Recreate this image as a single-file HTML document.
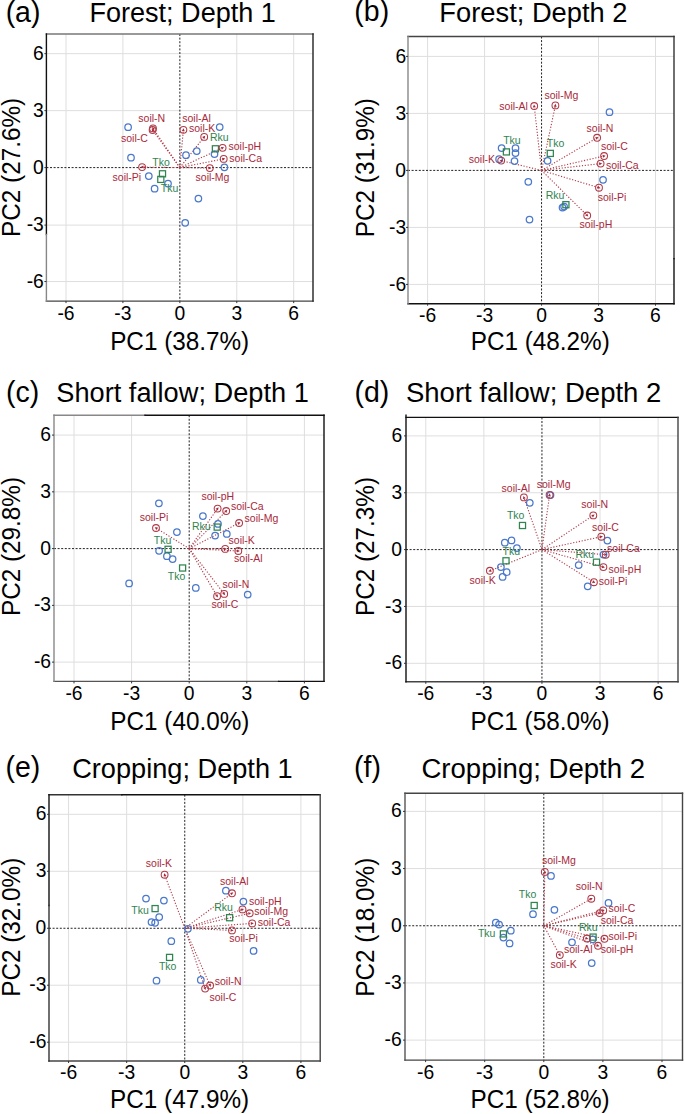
<!DOCTYPE html>
<html><head><meta charset="utf-8"><title>PCA biplots</title>
<style>
html,body{margin:0;padding:0;background:#fff;}
body{width:685px;height:1114px;overflow:hidden;}
svg{display:block;font-family:"Liberation Sans", sans-serif;font-kerning:none;}
svg text{font-kerning:none;}
</style></head>
<body>
<svg width="685" height="1114" viewBox="0 0 685 1114">
<rect width="685" height="1114" fill="#fff"/>
<g id="panel-a">
<line x1="66" y1="34" x2="66" y2="301.1" stroke="#DEDEDE" stroke-width="1"/>
<line x1="46.4" y1="281.54" x2="313" y2="281.54" stroke="#DEDEDE" stroke-width="1"/>
<line x1="122.92" y1="34" x2="122.92" y2="301.1" stroke="#DEDEDE" stroke-width="1"/>
<line x1="46.4" y1="225.1" x2="313" y2="225.1" stroke="#DEDEDE" stroke-width="1"/>
<line x1="236.78" y1="34" x2="236.78" y2="301.1" stroke="#DEDEDE" stroke-width="1"/>
<line x1="46.4" y1="110.63" x2="313" y2="110.63" stroke="#DEDEDE" stroke-width="1"/>
<line x1="293.7" y1="34" x2="293.7" y2="301.1" stroke="#DEDEDE" stroke-width="1"/>
<line x1="46.4" y1="53.66" x2="313" y2="53.66" stroke="#DEDEDE" stroke-width="1"/>
<line x1="179.85" y1="34" x2="179.85" y2="301.1" stroke="#222" stroke-width="1" stroke-dasharray="2 1.6"/>
<line x1="46.4" y1="167.6" x2="313" y2="167.6" stroke="#222" stroke-width="1" stroke-dasharray="2 1.6"/>
<line x1="179.85" y1="167.6" x2="153" y2="128.4" stroke="#B03A48" stroke-width="1.1" stroke-dasharray="1.2 1.7"/>
<line x1="179.85" y1="167.6" x2="152.6" y2="130" stroke="#B03A48" stroke-width="1.1" stroke-dasharray="1.2 1.7"/>
<line x1="179.85" y1="167.6" x2="183.4" y2="129.8" stroke="#B03A48" stroke-width="1.1" stroke-dasharray="1.2 1.7"/>
<line x1="179.85" y1="167.6" x2="204.2" y2="136.9" stroke="#B03A48" stroke-width="1.1" stroke-dasharray="1.2 1.7"/>
<line x1="179.85" y1="167.6" x2="222.6" y2="147.8" stroke="#B03A48" stroke-width="1.1" stroke-dasharray="1.2 1.7"/>
<line x1="179.85" y1="167.6" x2="223.7" y2="158.9" stroke="#B03A48" stroke-width="1.1" stroke-dasharray="1.2 1.7"/>
<line x1="179.85" y1="167.6" x2="209.8" y2="168.1" stroke="#B03A48" stroke-width="1.1" stroke-dasharray="1.2 1.7"/>
<line x1="179.85" y1="167.6" x2="142.1" y2="167.1" stroke="#B03A48" stroke-width="1.1" stroke-dasharray="1.2 1.7"/>
<circle cx="128.1" cy="127.2" r="3.25" fill="none" stroke="#4A78CC" stroke-width="1.25"/>
<circle cx="131" cy="157.7" r="3.25" fill="none" stroke="#4A78CC" stroke-width="1.25"/>
<circle cx="148.8" cy="176" r="3.25" fill="none" stroke="#4A78CC" stroke-width="1.25"/>
<circle cx="154.6" cy="188.7" r="3.25" fill="none" stroke="#4A78CC" stroke-width="1.25"/>
<circle cx="168" cy="183.5" r="3.25" fill="none" stroke="#4A78CC" stroke-width="1.25"/>
<circle cx="186" cy="155.2" r="3.25" fill="none" stroke="#4A78CC" stroke-width="1.25"/>
<circle cx="196.75" cy="151" r="3.25" fill="none" stroke="#4A78CC" stroke-width="1.25"/>
<circle cx="219.7" cy="127.1" r="3.25" fill="none" stroke="#4A78CC" stroke-width="1.25"/>
<circle cx="214.5" cy="154" r="3.25" fill="none" stroke="#4A78CC" stroke-width="1.25"/>
<circle cx="224.4" cy="167.3" r="3.25" fill="none" stroke="#4A78CC" stroke-width="1.25"/>
<circle cx="198.4" cy="198.6" r="3.25" fill="none" stroke="#4A78CC" stroke-width="1.25"/>
<circle cx="185.2" cy="222.8" r="3.25" fill="none" stroke="#4A78CC" stroke-width="1.25"/>
<rect x="212.35" y="145.75" width="6.1" height="6.1" fill="none" stroke="#2F8450" stroke-width="1.25"/>
<rect x="159.45" y="170.75" width="6.1" height="6.1" fill="none" stroke="#2F8450" stroke-width="1.25"/>
<rect x="157.75" y="176.35" width="6.1" height="6.1" fill="none" stroke="#2F8450" stroke-width="1.25"/>
<circle cx="153" cy="128.4" r="3.4" fill="none" stroke="#B03A48" stroke-width="1.05"/>
<path d="M152.1 127.08L155.03 128.71L152.55 130.4Z" fill="#A8293B"/>
<circle cx="152.6" cy="130" r="3.4" fill="none" stroke="#B03A48" stroke-width="1.05"/>
<path d="M151.66 128.7L154.64 130.25L152.21 132.01Z" fill="#A8293B"/>
<circle cx="183.4" cy="129.8" r="3.4" fill="none" stroke="#B03A48" stroke-width="1.05"/>
<path d="M183.55 128.21L184.76 131.33L181.78 131.05Z" fill="#A8293B"/>
<circle cx="204.2" cy="136.9" r="3.4" fill="none" stroke="#B03A48" stroke-width="1.05"/>
<path d="M205.19 135.65L204.51 138.93L202.15 137.06Z" fill="#A8293B"/>
<circle cx="222.6" cy="147.8" r="3.4" fill="none" stroke="#B03A48" stroke-width="1.05"/>
<path d="M224.05 147.13L221.96 149.75L220.7 147.03Z" fill="#A8293B"/>
<circle cx="223.7" cy="158.9" r="3.4" fill="none" stroke="#B03A48" stroke-width="1.05"/>
<path d="M225.27 158.59L222.62 160.64L222.03 157.7Z" fill="#A8293B"/>
<circle cx="209.8" cy="168.1" r="3.4" fill="none" stroke="#B03A48" stroke-width="1.05"/>
<path d="M211.4 168.13L208.38 169.58L208.43 166.58Z" fill="#A8293B"/>
<circle cx="142.1" cy="167.1" r="3.4" fill="none" stroke="#B03A48" stroke-width="1.05"/>
<path d="M140.5 167.08L143.52 165.62L143.48 168.62Z" fill="#A8293B"/>
<text x="209.94" y="140.8" font-size="10.5" fill="#2F8450">Rku</text>
<text x="152.36" y="165.9" font-size="10.5" fill="#2F8450">Tko</text>
<text x="160.76" y="192" font-size="10.5" fill="#2F8450">Tku</text>
<text x="138.31" y="121.5" font-size="10.5" fill="#A8293B">soil-N</text>
<text x="121.01" y="141.9" font-size="10.5" fill="#A8293B">soil-C</text>
<text x="182.21" y="122.2" font-size="10.5" fill="#A8293B">soil-Al</text>
<text x="189.01" y="132.1" font-size="10.5" fill="#A8293B">soil-K</text>
<text x="228.51" y="150.4" font-size="10.5" fill="#A8293B">soil-pH</text>
<text x="229.31" y="161.9" font-size="10.5" fill="#A8293B">soil-Ca</text>
<text x="195.61" y="180.5" font-size="10.5" fill="#A8293B">soil-Mg</text>
<text x="112.61" y="180.5" font-size="10.5" fill="#A8293B">soil-Pi</text>
<line x1="46.4" y1="34" x2="313" y2="34" stroke="#777" stroke-width="1.4" stroke-linecap="square"/>
<line x1="46.4" y1="301.1" x2="313" y2="301.1" stroke="#444" stroke-width="1.4" stroke-linecap="square"/>
<line x1="46.4" y1="34" x2="46.4" y2="234.5" stroke="#111" stroke-width="1.4" stroke-linecap="square"/>
<line x1="46.4" y1="234.5" x2="46.4" y2="301.1" stroke="#888" stroke-width="1.4" stroke-linecap="square"/>
<line x1="313" y1="34" x2="313" y2="301.1" stroke="#222" stroke-width="1.4" stroke-linecap="square"/>
<line x1="66" y1="301.1" x2="66" y2="303.1" stroke="#333" stroke-width="1"/>
<line x1="44.4" y1="281.54" x2="46.4" y2="281.54" stroke="#333" stroke-width="1"/>
<line x1="122.92" y1="301.1" x2="122.92" y2="303.1" stroke="#333" stroke-width="1"/>
<line x1="44.4" y1="225.1" x2="46.4" y2="225.1" stroke="#333" stroke-width="1"/>
<line x1="179.85" y1="301.1" x2="179.85" y2="303.1" stroke="#333" stroke-width="1"/>
<line x1="44.4" y1="167.6" x2="46.4" y2="167.6" stroke="#333" stroke-width="1"/>
<line x1="236.78" y1="301.1" x2="236.78" y2="303.1" stroke="#333" stroke-width="1"/>
<line x1="44.4" y1="110.63" x2="46.4" y2="110.63" stroke="#333" stroke-width="1"/>
<line x1="293.7" y1="301.1" x2="293.7" y2="303.1" stroke="#333" stroke-width="1"/>
<line x1="44.4" y1="53.66" x2="46.4" y2="53.66" stroke="#333" stroke-width="1"/>
<text x="57.41" y="319.5" font-size="19.3">-6</text>
<text x="26.69" y="287.64" font-size="19.3">-6</text>
<text x="114.34" y="319.5" font-size="19.3">-3</text>
<text x="26.69" y="231.2" font-size="19.3">-3</text>
<text x="174.48" y="319.5" font-size="19.3">0</text>
<text x="33.02" y="173.7" font-size="19.3">0</text>
<text x="231.46" y="319.5" font-size="19.3">3</text>
<text x="33.11" y="116.73" font-size="19.3">3</text>
<text x="288.27" y="319.5" font-size="19.3">6</text>
<text x="33.11" y="59.76" font-size="19.3">6</text>
<text transform="translate(110.15,349.8) scale(1,1.04)" font-size="24.3">PC1 (38.7%)</text>
<text transform="translate(20.1,167.1) rotate(-90) scale(1,1.04)" x="-69.8" y="0" font-size="24.3">PC2 (27.6%)</text>
<text transform="translate(5.63,21.5) scale(1,1.015)" font-size="28.5">(a)</text>
<text transform="translate(89.38,22.3) scale(1,1.015)" font-size="27.07">Forest; Depth 1</text>
</g>
<g id="panel-b">
<line x1="427.61" y1="36.5" x2="427.61" y2="303.7" stroke="#DEDEDE" stroke-width="1"/>
<line x1="408" y1="284.4" x2="674" y2="284.4" stroke="#DEDEDE" stroke-width="1"/>
<line x1="484.58" y1="36.5" x2="484.58" y2="303.7" stroke="#DEDEDE" stroke-width="1"/>
<line x1="408" y1="227.4" x2="674" y2="227.4" stroke="#DEDEDE" stroke-width="1"/>
<line x1="598.52" y1="36.5" x2="598.52" y2="303.7" stroke="#DEDEDE" stroke-width="1"/>
<line x1="408" y1="113.4" x2="674" y2="113.4" stroke="#DEDEDE" stroke-width="1"/>
<line x1="655.49" y1="36.5" x2="655.49" y2="303.7" stroke="#DEDEDE" stroke-width="1"/>
<line x1="408" y1="56.4" x2="674" y2="56.4" stroke="#DEDEDE" stroke-width="1"/>
<line x1="541.55" y1="36.5" x2="541.55" y2="303.7" stroke="#222" stroke-width="1" stroke-dasharray="2 1.6"/>
<line x1="408" y1="170.4" x2="674" y2="170.4" stroke="#222" stroke-width="1" stroke-dasharray="2 1.6"/>
<line x1="541.55" y1="170.4" x2="534.2" y2="106" stroke="#B03A48" stroke-width="1.1" stroke-dasharray="1.2 1.7"/>
<line x1="541.55" y1="170.4" x2="555.4" y2="105.4" stroke="#B03A48" stroke-width="1.1" stroke-dasharray="1.2 1.7"/>
<line x1="541.55" y1="170.4" x2="597.1" y2="137.75" stroke="#B03A48" stroke-width="1.1" stroke-dasharray="1.2 1.7"/>
<line x1="541.55" y1="170.4" x2="604.1" y2="156" stroke="#B03A48" stroke-width="1.1" stroke-dasharray="1.2 1.7"/>
<line x1="541.55" y1="170.4" x2="600.6" y2="163.6" stroke="#B03A48" stroke-width="1.1" stroke-dasharray="1.2 1.7"/>
<line x1="541.55" y1="170.4" x2="599" y2="187.7" stroke="#B03A48" stroke-width="1.1" stroke-dasharray="1.2 1.7"/>
<line x1="541.55" y1="170.4" x2="587.2" y2="215.5" stroke="#B03A48" stroke-width="1.1" stroke-dasharray="1.2 1.7"/>
<line x1="541.55" y1="170.4" x2="501.2" y2="160.6" stroke="#B03A48" stroke-width="1.1" stroke-dasharray="1.2 1.7"/>
<circle cx="501.6" cy="148" r="3.25" fill="none" stroke="#4A78CC" stroke-width="1.25"/>
<circle cx="515.5" cy="148.2" r="3.25" fill="none" stroke="#4A78CC" stroke-width="1.25"/>
<circle cx="515.5" cy="153.1" r="3.25" fill="none" stroke="#4A78CC" stroke-width="1.25"/>
<circle cx="514.5" cy="161.1" r="3.25" fill="none" stroke="#4A78CC" stroke-width="1.25"/>
<circle cx="499.1" cy="159.2" r="3.25" fill="none" stroke="#4A78CC" stroke-width="1.25"/>
<circle cx="547.6" cy="160.8" r="3.25" fill="none" stroke="#4A78CC" stroke-width="1.25"/>
<circle cx="528.3" cy="181.8" r="3.25" fill="none" stroke="#4A78CC" stroke-width="1.25"/>
<circle cx="529.5" cy="219.6" r="3.25" fill="none" stroke="#4A78CC" stroke-width="1.25"/>
<circle cx="562.5" cy="207.6" r="3.25" fill="none" stroke="#4A78CC" stroke-width="1.25"/>
<circle cx="564.1" cy="206.6" r="3.25" fill="none" stroke="#4A78CC" stroke-width="1.25"/>
<circle cx="609.5" cy="112.2" r="3.25" fill="none" stroke="#4A78CC" stroke-width="1.25"/>
<circle cx="603.05" cy="179.8" r="3.25" fill="none" stroke="#4A78CC" stroke-width="1.25"/>
<rect x="503.35" y="148.85" width="6.1" height="6.1" fill="none" stroke="#2F8450" stroke-width="1.25"/>
<rect x="547.25" y="150.35" width="6.1" height="6.1" fill="none" stroke="#2F8450" stroke-width="1.25"/>
<rect x="562.85" y="201.65" width="6.1" height="6.1" fill="none" stroke="#2F8450" stroke-width="1.25"/>
<circle cx="534.2" cy="106" r="3.4" fill="none" stroke="#B03A48" stroke-width="1.05"/>
<path d="M534.02 104.41L535.85 107.22L532.87 107.56Z" fill="#A8293B"/>
<circle cx="555.4" cy="105.4" r="3.4" fill="none" stroke="#B03A48" stroke-width="1.05"/>
<path d="M555.73 103.84L556.58 107.08L553.64 106.46Z" fill="#A8293B"/>
<circle cx="597.1" cy="137.75" r="3.4" fill="none" stroke="#B03A48" stroke-width="1.05"/>
<path d="M598.48 136.94L596.65 139.75L595.13 137.17Z" fill="#A8293B"/>
<circle cx="604.1" cy="156" r="3.4" fill="none" stroke="#B03A48" stroke-width="1.05"/>
<path d="M605.66 155.64L603.07 157.78L602.4 154.85Z" fill="#A8293B"/>
<circle cx="600.6" cy="163.6" r="3.4" fill="none" stroke="#B03A48" stroke-width="1.05"/>
<path d="M602.19 163.42L599.38 165.25L599.04 162.27Z" fill="#A8293B"/>
<circle cx="599" cy="187.7" r="3.4" fill="none" stroke="#B03A48" stroke-width="1.05"/>
<path d="M600.53 188.16L597.23 188.73L598.09 185.86Z" fill="#A8293B"/>
<circle cx="587.2" cy="215.5" r="3.4" fill="none" stroke="#B03A48" stroke-width="1.05"/>
<path d="M588.34 216.62L585.15 215.58L587.26 213.45Z" fill="#A8293B"/>
<circle cx="501.2" cy="160.6" r="3.4" fill="none" stroke="#B03A48" stroke-width="1.05"/>
<path d="M499.65 160.22L502.91 159.47L502.21 162.39Z" fill="#A8293B"/>
<text x="503.16" y="144.2" font-size="10.5" fill="#2F8450">Tku</text>
<text x="546.86" y="147.1" font-size="10.5" fill="#2F8450">Tko</text>
<text x="545.74" y="199.2" font-size="10.5" fill="#2F8450">Rku</text>
<text x="499.31" y="110.4" font-size="10.5" fill="#A8293B">soil-Al</text>
<text x="544.41" y="98.5" font-size="10.5" fill="#A8293B">soil-Mg</text>
<text x="586.61" y="131.5" font-size="10.5" fill="#A8293B">soil-N</text>
<text x="601.01" y="149.6" font-size="10.5" fill="#A8293B">soil-C</text>
<text x="605.91" y="168.5" font-size="10.5" fill="#A8293B">soil-Ca</text>
<text x="597.71" y="200.75" font-size="10.5" fill="#A8293B">soil-Pi</text>
<text x="579.61" y="227.6" font-size="10.5" fill="#A8293B">soil-pH</text>
<text x="468.71" y="163.2" font-size="10.5" fill="#A8293B">soil-K</text>
<line x1="408" y1="36.5" x2="674" y2="36.5" stroke="#444" stroke-width="1.4" stroke-linecap="square"/>
<line x1="408" y1="303.7" x2="674" y2="303.7" stroke="#111" stroke-width="1.4" stroke-linecap="square"/>
<line x1="408" y1="36.5" x2="408" y2="303.7" stroke="#888" stroke-width="1.4" stroke-linecap="square"/>
<line x1="674" y1="36.5" x2="674" y2="258.6" stroke="#333" stroke-width="1.4" stroke-linecap="square"/>
<line x1="674" y1="258.6" x2="674" y2="303.7" stroke="#111" stroke-width="1.4" stroke-linecap="square"/>
<line x1="427.61" y1="303.7" x2="427.61" y2="305.7" stroke="#333" stroke-width="1"/>
<line x1="406" y1="284.4" x2="408" y2="284.4" stroke="#333" stroke-width="1"/>
<line x1="484.58" y1="303.7" x2="484.58" y2="305.7" stroke="#333" stroke-width="1"/>
<line x1="406" y1="227.4" x2="408" y2="227.4" stroke="#333" stroke-width="1"/>
<line x1="541.55" y1="303.7" x2="541.55" y2="305.7" stroke="#333" stroke-width="1"/>
<line x1="406" y1="170.4" x2="408" y2="170.4" stroke="#333" stroke-width="1"/>
<line x1="598.52" y1="303.7" x2="598.52" y2="305.7" stroke="#333" stroke-width="1"/>
<line x1="406" y1="113.4" x2="408" y2="113.4" stroke="#333" stroke-width="1"/>
<line x1="655.49" y1="303.7" x2="655.49" y2="305.7" stroke="#333" stroke-width="1"/>
<line x1="406" y1="56.4" x2="408" y2="56.4" stroke="#333" stroke-width="1"/>
<text x="419.02" y="322.1" font-size="19.3">-6</text>
<text x="388.99" y="290.5" font-size="19.3">-6</text>
<text x="475.99" y="322.1" font-size="19.3">-3</text>
<text x="388.99" y="233.5" font-size="19.3">-3</text>
<text x="536.18" y="322.1" font-size="19.3">0</text>
<text x="395.32" y="176.5" font-size="19.3">0</text>
<text x="593.21" y="322.1" font-size="19.3">3</text>
<text x="395.41" y="119.5" font-size="19.3">3</text>
<text x="650.06" y="322.1" font-size="19.3">6</text>
<text x="395.41" y="62.5" font-size="19.3">6</text>
<text transform="translate(470.75,349.7) scale(1,1.04)" font-size="24.3">PC1 (48.2%)</text>
<text transform="translate(373.7,167.35) rotate(-90) scale(1,1.04)" x="-69.8" y="0" font-size="24.3">PC2 (31.9%)</text>
<text transform="translate(354.33,21.2) scale(1,1.015)" font-size="28.5">(b)</text>
<text transform="translate(439.36,22.2) scale(1,1.015)" font-size="27.31">Forest; Depth 2</text>
</g>
<g id="panel-c">
<line x1="74" y1="415.2" x2="74" y2="681.4" stroke="#DEDEDE" stroke-width="1"/>
<line x1="54" y1="662.12" x2="324" y2="662.12" stroke="#DEDEDE" stroke-width="1"/>
<line x1="131.6" y1="415.2" x2="131.6" y2="681.4" stroke="#DEDEDE" stroke-width="1"/>
<line x1="54" y1="605.36" x2="324" y2="605.36" stroke="#DEDEDE" stroke-width="1"/>
<line x1="246.8" y1="415.2" x2="246.8" y2="681.4" stroke="#DEDEDE" stroke-width="1"/>
<line x1="54" y1="491.84" x2="324" y2="491.84" stroke="#DEDEDE" stroke-width="1"/>
<line x1="304.4" y1="415.2" x2="304.4" y2="681.4" stroke="#DEDEDE" stroke-width="1"/>
<line x1="54" y1="435.08" x2="324" y2="435.08" stroke="#DEDEDE" stroke-width="1"/>
<line x1="189.2" y1="415.2" x2="189.2" y2="681.4" stroke="#222" stroke-width="1" stroke-dasharray="2 1.6"/>
<line x1="54" y1="548.6" x2="324" y2="548.6" stroke="#222" stroke-width="1" stroke-dasharray="2 1.6"/>
<line x1="189.2" y1="548.6" x2="217.6" y2="508.6" stroke="#B03A48" stroke-width="1.1" stroke-dasharray="1.2 1.7"/>
<line x1="189.2" y1="548.6" x2="226.2" y2="511" stroke="#B03A48" stroke-width="1.1" stroke-dasharray="1.2 1.7"/>
<line x1="189.2" y1="548.6" x2="239.1" y2="523" stroke="#B03A48" stroke-width="1.1" stroke-dasharray="1.2 1.7"/>
<line x1="189.2" y1="548.6" x2="225.2" y2="548.9" stroke="#B03A48" stroke-width="1.1" stroke-dasharray="1.2 1.7"/>
<line x1="189.2" y1="548.6" x2="238.3" y2="551" stroke="#B03A48" stroke-width="1.1" stroke-dasharray="1.2 1.7"/>
<line x1="189.2" y1="548.6" x2="224.2" y2="593.9" stroke="#B03A48" stroke-width="1.1" stroke-dasharray="1.2 1.7"/>
<line x1="189.2" y1="548.6" x2="217.1" y2="596.2" stroke="#B03A48" stroke-width="1.1" stroke-dasharray="1.2 1.7"/>
<line x1="189.2" y1="548.6" x2="156" y2="528" stroke="#B03A48" stroke-width="1.1" stroke-dasharray="1.2 1.7"/>
<circle cx="158.9" cy="503.3" r="3.25" fill="none" stroke="#4A78CC" stroke-width="1.25"/>
<circle cx="176.9" cy="532" r="3.25" fill="none" stroke="#4A78CC" stroke-width="1.25"/>
<circle cx="159.1" cy="550.8" r="3.25" fill="none" stroke="#4A78CC" stroke-width="1.25"/>
<circle cx="166.9" cy="556.2" r="3.25" fill="none" stroke="#4A78CC" stroke-width="1.25"/>
<circle cx="172.6" cy="559.1" r="3.25" fill="none" stroke="#4A78CC" stroke-width="1.25"/>
<circle cx="129.1" cy="583.4" r="3.25" fill="none" stroke="#4A78CC" stroke-width="1.25"/>
<circle cx="195.8" cy="587.9" r="3.25" fill="none" stroke="#4A78CC" stroke-width="1.25"/>
<circle cx="202.9" cy="516" r="3.25" fill="none" stroke="#4A78CC" stroke-width="1.25"/>
<circle cx="218" cy="523.9" r="3.25" fill="none" stroke="#4A78CC" stroke-width="1.25"/>
<circle cx="215.1" cy="535.6" r="3.25" fill="none" stroke="#4A78CC" stroke-width="1.25"/>
<circle cx="226.8" cy="533.9" r="3.25" fill="none" stroke="#4A78CC" stroke-width="1.25"/>
<circle cx="247.7" cy="594.5" r="3.25" fill="none" stroke="#4A78CC" stroke-width="1.25"/>
<rect x="214.15" y="524.05" width="6.1" height="6.1" fill="none" stroke="#2F8450" stroke-width="1.25"/>
<rect x="165.05" y="546.25" width="6.1" height="6.1" fill="none" stroke="#2F8450" stroke-width="1.25"/>
<rect x="179.55" y="564.95" width="6.1" height="6.1" fill="none" stroke="#2F8450" stroke-width="1.25"/>
<circle cx="217.6" cy="508.6" r="3.4" fill="none" stroke="#B03A48" stroke-width="1.05"/>
<path d="M218.53 507.3L218.01 510.61L215.57 508.87Z" fill="#A8293B"/>
<circle cx="226.2" cy="511" r="3.4" fill="none" stroke="#B03A48" stroke-width="1.05"/>
<path d="M227.32 509.86L226.29 513.05L224.15 510.95Z" fill="#A8293B"/>
<circle cx="239.1" cy="523" r="3.4" fill="none" stroke="#B03A48" stroke-width="1.05"/>
<path d="M240.52 522.27L238.54 524.97L237.17 522.3Z" fill="#A8293B"/>
<circle cx="225.2" cy="548.9" r="3.4" fill="none" stroke="#B03A48" stroke-width="1.05"/>
<path d="M226.8 548.91L223.79 550.39L223.81 547.39Z" fill="#A8293B"/>
<circle cx="238.3" cy="551" r="3.4" fill="none" stroke="#B03A48" stroke-width="1.05"/>
<path d="M239.9 551.08L236.83 552.43L236.97 549.43Z" fill="#A8293B"/>
<circle cx="224.2" cy="593.9" r="3.4" fill="none" stroke="#B03A48" stroke-width="1.05"/>
<path d="M225.18 595.17L222.16 593.71L224.53 591.88Z" fill="#A8293B"/>
<circle cx="217.1" cy="596.2" r="3.4" fill="none" stroke="#B03A48" stroke-width="1.05"/>
<path d="M217.91 597.58L215.1 595.75L217.69 594.23Z" fill="#A8293B"/>
<circle cx="156" cy="528" r="3.4" fill="none" stroke="#B03A48" stroke-width="1.05"/>
<path d="M154.64 527.16L157.98 527.46L156.4 530.01Z" fill="#A8293B"/>
<text x="192.04" y="529.9" font-size="10.5" fill="#2F8450">Rku</text>
<text x="153.76" y="543.9" font-size="10.5" fill="#2F8450">Tku</text>
<text x="167.76" y="579.7" font-size="10.5" fill="#2F8450">Tko</text>
<text x="201.41" y="500.3" font-size="10.5" fill="#A8293B">soil-pH</text>
<text x="230.91" y="509.7" font-size="10.5" fill="#A8293B">soil-Ca</text>
<text x="244.61" y="522.2" font-size="10.5" fill="#A8293B">soil-Mg</text>
<text x="228.61" y="543.5" font-size="10.5" fill="#A8293B">soil-K</text>
<text x="234.11" y="561.9" font-size="10.5" fill="#A8293B">soil-Al</text>
<text x="222.41" y="587.9" font-size="10.5" fill="#A8293B">soil-N</text>
<text x="211.51" y="608.4" font-size="10.5" fill="#A8293B">soil-C</text>
<text x="139.71" y="521.3" font-size="10.5" fill="#A8293B">soil-Pi</text>
<line x1="54" y1="415.2" x2="145" y2="415.2" stroke="#888" stroke-width="1.4" stroke-linecap="square"/>
<line x1="145" y1="415.2" x2="324" y2="415.2" stroke="#111" stroke-width="1.4" stroke-linecap="square"/>
<line x1="54" y1="681.4" x2="278.6" y2="681.4" stroke="#555" stroke-width="1.4" stroke-linecap="square"/>
<line x1="278.6" y1="681.4" x2="324" y2="681.4" stroke="#111" stroke-width="1.4" stroke-linecap="square"/>
<line x1="54" y1="415.2" x2="54" y2="681.4" stroke="#888" stroke-width="1.4" stroke-linecap="square"/>
<line x1="324" y1="415.2" x2="324" y2="681.4" stroke="#111" stroke-width="1.4" stroke-linecap="square"/>
<line x1="74" y1="681.4" x2="74" y2="683.4" stroke="#333" stroke-width="1"/>
<line x1="52" y1="662.12" x2="54" y2="662.12" stroke="#333" stroke-width="1"/>
<line x1="131.6" y1="681.4" x2="131.6" y2="683.4" stroke="#333" stroke-width="1"/>
<line x1="52" y1="605.36" x2="54" y2="605.36" stroke="#333" stroke-width="1"/>
<line x1="189.2" y1="681.4" x2="189.2" y2="683.4" stroke="#333" stroke-width="1"/>
<line x1="52" y1="548.6" x2="54" y2="548.6" stroke="#333" stroke-width="1"/>
<line x1="246.8" y1="681.4" x2="246.8" y2="683.4" stroke="#333" stroke-width="1"/>
<line x1="52" y1="491.84" x2="54" y2="491.84" stroke="#333" stroke-width="1"/>
<line x1="304.4" y1="681.4" x2="304.4" y2="683.4" stroke="#333" stroke-width="1"/>
<line x1="52" y1="435.08" x2="54" y2="435.08" stroke="#333" stroke-width="1"/>
<text x="65.41" y="699.8" font-size="19.3">-6</text>
<text x="33.89" y="668.22" font-size="19.3">-6</text>
<text x="123.01" y="699.8" font-size="19.3">-3</text>
<text x="33.89" y="611.46" font-size="19.3">-3</text>
<text x="183.83" y="699.8" font-size="19.3">0</text>
<text x="40.22" y="554.7" font-size="19.3">0</text>
<text x="241.49" y="699.8" font-size="19.3">3</text>
<text x="40.31" y="497.94" font-size="19.3">3</text>
<text x="298.97" y="699.8" font-size="19.3">6</text>
<text x="40.31" y="441.18" font-size="19.3">6</text>
<text transform="translate(110.35,729.9) scale(1,1.04)" font-size="24.3">PC1 (40.0%)</text>
<text transform="translate(20.1,546.25) rotate(-90) scale(1,1.04)" x="-69.8" y="0" font-size="24.3">PC2 (29.8%)</text>
<text transform="translate(5.93,401.5) scale(1,1.015)" font-size="28.5">(c)</text>
<text transform="translate(56.26,402.2) scale(1,1.015)" font-size="27.21">Short fallow; Depth 1</text>
</g>
<g id="panel-d">
<line x1="425.79" y1="417.4" x2="425.79" y2="681.8" stroke="#DEDEDE" stroke-width="1"/>
<line x1="406" y1="663.3" x2="678" y2="663.3" stroke="#DEDEDE" stroke-width="1"/>
<line x1="483.87" y1="417.4" x2="483.87" y2="681.8" stroke="#DEDEDE" stroke-width="1"/>
<line x1="406" y1="606.45" x2="678" y2="606.45" stroke="#DEDEDE" stroke-width="1"/>
<line x1="600.03" y1="417.4" x2="600.03" y2="681.8" stroke="#DEDEDE" stroke-width="1"/>
<line x1="406" y1="492.75" x2="678" y2="492.75" stroke="#DEDEDE" stroke-width="1"/>
<line x1="658.11" y1="417.4" x2="658.11" y2="681.8" stroke="#DEDEDE" stroke-width="1"/>
<line x1="406" y1="435.9" x2="678" y2="435.9" stroke="#DEDEDE" stroke-width="1"/>
<line x1="541.95" y1="417.4" x2="541.95" y2="681.8" stroke="#222" stroke-width="1" stroke-dasharray="2 1.6"/>
<line x1="406" y1="549.6" x2="678" y2="549.6" stroke="#222" stroke-width="1" stroke-dasharray="2 1.6"/>
<line x1="541.95" y1="549.6" x2="523.9" y2="497.4" stroke="#B03A48" stroke-width="1.1" stroke-dasharray="1.2 1.7"/>
<line x1="541.95" y1="549.6" x2="549.6" y2="494.9" stroke="#B03A48" stroke-width="1.1" stroke-dasharray="1.2 1.7"/>
<line x1="541.95" y1="549.6" x2="593.3" y2="515.4" stroke="#B03A48" stroke-width="1.1" stroke-dasharray="1.2 1.7"/>
<line x1="541.95" y1="549.6" x2="601.3" y2="536.7" stroke="#B03A48" stroke-width="1.1" stroke-dasharray="1.2 1.7"/>
<line x1="541.95" y1="549.6" x2="605.7" y2="554.7" stroke="#B03A48" stroke-width="1.1" stroke-dasharray="1.2 1.7"/>
<line x1="541.95" y1="549.6" x2="603.4" y2="567.1" stroke="#B03A48" stroke-width="1.1" stroke-dasharray="1.2 1.7"/>
<line x1="541.95" y1="549.6" x2="593.9" y2="582.2" stroke="#B03A48" stroke-width="1.1" stroke-dasharray="1.2 1.7"/>
<line x1="541.95" y1="549.6" x2="489.9" y2="570.8" stroke="#B03A48" stroke-width="1.1" stroke-dasharray="1.2 1.7"/>
<circle cx="529.8" cy="502.8" r="3.25" fill="none" stroke="#4A78CC" stroke-width="1.25"/>
<circle cx="550.5" cy="495.1" r="3.25" fill="none" stroke="#4A78CC" stroke-width="1.25"/>
<circle cx="511.5" cy="540.4" r="3.25" fill="none" stroke="#4A78CC" stroke-width="1.25"/>
<circle cx="504.8" cy="542.7" r="3.25" fill="none" stroke="#4A78CC" stroke-width="1.25"/>
<circle cx="516.9" cy="548.1" r="3.25" fill="none" stroke="#4A78CC" stroke-width="1.25"/>
<circle cx="500.9" cy="567.1" r="3.25" fill="none" stroke="#4A78CC" stroke-width="1.25"/>
<circle cx="506.7" cy="572.2" r="3.25" fill="none" stroke="#4A78CC" stroke-width="1.25"/>
<circle cx="502.6" cy="576.9" r="3.25" fill="none" stroke="#4A78CC" stroke-width="1.25"/>
<circle cx="578.7" cy="565.1" r="3.25" fill="none" stroke="#4A78CC" stroke-width="1.25"/>
<circle cx="607.4" cy="540.6" r="3.25" fill="none" stroke="#4A78CC" stroke-width="1.25"/>
<circle cx="603.5" cy="554.5" r="3.25" fill="none" stroke="#4A78CC" stroke-width="1.25"/>
<circle cx="587.7" cy="586.3" r="3.25" fill="none" stroke="#4A78CC" stroke-width="1.25"/>
<rect x="519.45" y="522.45" width="6.1" height="6.1" fill="none" stroke="#2F8450" stroke-width="1.25"/>
<rect x="502.95" y="557.75" width="6.1" height="6.1" fill="none" stroke="#2F8450" stroke-width="1.25"/>
<rect x="593.45" y="559.15" width="6.1" height="6.1" fill="none" stroke="#2F8450" stroke-width="1.25"/>
<circle cx="523.9" cy="497.4" r="3.4" fill="none" stroke="#B03A48" stroke-width="1.05"/>
<path d="M523.38 495.89L525.78 498.23L522.94 499.21Z" fill="#A8293B"/>
<circle cx="549.6" cy="494.9" r="3.4" fill="none" stroke="#B03A48" stroke-width="1.05"/>
<path d="M549.82 493.32L550.89 496.49L547.92 496.08Z" fill="#A8293B"/>
<circle cx="593.3" cy="515.4" r="3.4" fill="none" stroke="#B03A48" stroke-width="1.05"/>
<path d="M594.63 514.51L592.97 517.42L591.3 514.93Z" fill="#A8293B"/>
<circle cx="601.3" cy="536.7" r="3.4" fill="none" stroke="#B03A48" stroke-width="1.05"/>
<path d="M602.86 536.36L600.25 538.46L599.61 535.53Z" fill="#A8293B"/>
<circle cx="605.7" cy="554.7" r="3.4" fill="none" stroke="#B03A48" stroke-width="1.05"/>
<path d="M607.29 554.83L604.18 556.08L604.42 553.09Z" fill="#A8293B"/>
<circle cx="603.4" cy="567.1" r="3.4" fill="none" stroke="#B03A48" stroke-width="1.05"/>
<path d="M604.94 567.54L601.64 568.16L602.46 565.27Z" fill="#A8293B"/>
<circle cx="593.9" cy="582.2" r="3.4" fill="none" stroke="#B03A48" stroke-width="1.05"/>
<path d="M595.26 583.05L591.92 582.73L593.51 580.19Z" fill="#A8293B"/>
<circle cx="489.9" cy="570.8" r="3.4" fill="none" stroke="#B03A48" stroke-width="1.05"/>
<path d="M488.42 571.4L490.63 568.88L491.76 571.66Z" fill="#A8293B"/>
<text x="506.96" y="519" font-size="10.5" fill="#2F8450">Tko</text>
<text x="502.56" y="555.1" font-size="10.5" fill="#2F8450">Tku</text>
<text x="575.54" y="557.5" font-size="10.5" fill="#2F8450">Rku</text>
<text x="501.61" y="492.3" font-size="10.5" fill="#A8293B">soil-Al</text>
<text x="536.71" y="488.4" font-size="10.5" fill="#A8293B">soil-Mg</text>
<text x="581.31" y="508.4" font-size="10.5" fill="#A8293B">soil-N</text>
<text x="592.11" y="531.2" font-size="10.5" fill="#A8293B">soil-C</text>
<text x="607.11" y="551.9" font-size="10.5" fill="#A8293B">soil-Ca</text>
<text x="608.61" y="572.7" font-size="10.5" fill="#A8293B">soil-pH</text>
<text x="598.81" y="585.2" font-size="10.5" fill="#A8293B">soil-Pi</text>
<text x="469.61" y="584" font-size="10.5" fill="#A8293B">soil-K</text>
<line x1="406" y1="417.4" x2="678" y2="417.4" stroke="#111" stroke-width="1.4" stroke-linecap="square"/>
<line x1="406" y1="681.8" x2="678" y2="681.8" stroke="#444" stroke-width="1.4" stroke-linecap="square"/>
<line x1="406" y1="415.3" x2="406" y2="681.8" stroke="#111" stroke-width="1.4" stroke-linecap="square"/>
<line x1="678" y1="417.4" x2="678" y2="681.8" stroke="#444" stroke-width="1.4" stroke-linecap="square"/>
<line x1="425.79" y1="681.8" x2="425.79" y2="683.8" stroke="#333" stroke-width="1"/>
<line x1="404" y1="663.3" x2="406" y2="663.3" stroke="#333" stroke-width="1"/>
<line x1="483.87" y1="681.8" x2="483.87" y2="683.8" stroke="#333" stroke-width="1"/>
<line x1="404" y1="606.45" x2="406" y2="606.45" stroke="#333" stroke-width="1"/>
<line x1="541.95" y1="681.8" x2="541.95" y2="683.8" stroke="#333" stroke-width="1"/>
<line x1="404" y1="549.6" x2="406" y2="549.6" stroke="#333" stroke-width="1"/>
<line x1="600.03" y1="681.8" x2="600.03" y2="683.8" stroke="#333" stroke-width="1"/>
<line x1="404" y1="492.75" x2="406" y2="492.75" stroke="#333" stroke-width="1"/>
<line x1="658.11" y1="681.8" x2="658.11" y2="683.8" stroke="#333" stroke-width="1"/>
<line x1="404" y1="435.9" x2="406" y2="435.9" stroke="#333" stroke-width="1"/>
<text x="417.2" y="700.2" font-size="19.3">-6</text>
<text x="384.99" y="669.4" font-size="19.3">-6</text>
<text x="475.28" y="700.2" font-size="19.3">-3</text>
<text x="384.99" y="612.55" font-size="19.3">-3</text>
<text x="536.58" y="700.2" font-size="19.3">0</text>
<text x="391.32" y="555.7" font-size="19.3">0</text>
<text x="594.72" y="700.2" font-size="19.3">3</text>
<text x="391.41" y="498.85" font-size="19.3">3</text>
<text x="652.68" y="700.2" font-size="19.3">6</text>
<text x="391.41" y="442" font-size="19.3">6</text>
<text transform="translate(470.6,729.9) scale(1,1.04)" font-size="24.3">PC1 (58.0%)</text>
<text transform="translate(373.7,546.25) rotate(-90) scale(1,1.04)" x="-69.8" y="0" font-size="24.3">PC2 (27.3%)</text>
<text transform="translate(354.43,401.5) scale(1,1.015)" font-size="28.5">(d)</text>
<text transform="translate(405.95,402.1) scale(1,1.015)" font-size="27.53">Short fallow; Depth 2</text>
</g>
<g id="panel-e">
<line x1="68.59" y1="794.7" x2="68.59" y2="1061" stroke="#DEDEDE" stroke-width="1"/>
<line x1="49" y1="1042.19" x2="320.2" y2="1042.19" stroke="#DEDEDE" stroke-width="1"/>
<line x1="126.67" y1="794.7" x2="126.67" y2="1061" stroke="#DEDEDE" stroke-width="1"/>
<line x1="49" y1="985.22" x2="320.2" y2="985.22" stroke="#DEDEDE" stroke-width="1"/>
<line x1="242.83" y1="794.7" x2="242.83" y2="1061" stroke="#DEDEDE" stroke-width="1"/>
<line x1="49" y1="871.28" x2="320.2" y2="871.28" stroke="#DEDEDE" stroke-width="1"/>
<line x1="300.91" y1="794.7" x2="300.91" y2="1061" stroke="#DEDEDE" stroke-width="1"/>
<line x1="49" y1="814.31" x2="320.2" y2="814.31" stroke="#DEDEDE" stroke-width="1"/>
<line x1="184.75" y1="794.7" x2="184.75" y2="1061" stroke="#222" stroke-width="1" stroke-dasharray="2 1.6"/>
<line x1="49" y1="928.25" x2="320.2" y2="928.25" stroke="#222" stroke-width="1" stroke-dasharray="2 1.6"/>
<line x1="184.75" y1="928.25" x2="164.6" y2="874.7" stroke="#B03A48" stroke-width="1.1" stroke-dasharray="1.2 1.7"/>
<line x1="184.75" y1="928.25" x2="232" y2="893.3" stroke="#B03A48" stroke-width="1.1" stroke-dasharray="1.2 1.7"/>
<line x1="184.75" y1="928.25" x2="242.5" y2="909.4" stroke="#B03A48" stroke-width="1.1" stroke-dasharray="1.2 1.7"/>
<line x1="184.75" y1="928.25" x2="249.7" y2="913.3" stroke="#B03A48" stroke-width="1.1" stroke-dasharray="1.2 1.7"/>
<line x1="184.75" y1="928.25" x2="252.2" y2="923.4" stroke="#B03A48" stroke-width="1.1" stroke-dasharray="1.2 1.7"/>
<line x1="184.75" y1="928.25" x2="232" y2="930.4" stroke="#B03A48" stroke-width="1.1" stroke-dasharray="1.2 1.7"/>
<line x1="184.75" y1="928.25" x2="210.1" y2="985.5" stroke="#B03A48" stroke-width="1.1" stroke-dasharray="1.2 1.7"/>
<line x1="184.75" y1="928.25" x2="205.1" y2="988.6" stroke="#B03A48" stroke-width="1.1" stroke-dasharray="1.2 1.7"/>
<circle cx="146" cy="898.5" r="3.25" fill="none" stroke="#4A78CC" stroke-width="1.25"/>
<circle cx="163.9" cy="900.5" r="3.25" fill="none" stroke="#4A78CC" stroke-width="1.25"/>
<circle cx="159.2" cy="917" r="3.25" fill="none" stroke="#4A78CC" stroke-width="1.25"/>
<circle cx="151.5" cy="922.1" r="3.25" fill="none" stroke="#4A78CC" stroke-width="1.25"/>
<circle cx="155.1" cy="922.8" r="3.25" fill="none" stroke="#4A78CC" stroke-width="1.25"/>
<circle cx="171.3" cy="941.2" r="3.25" fill="none" stroke="#4A78CC" stroke-width="1.25"/>
<circle cx="156.5" cy="980.7" r="3.25" fill="none" stroke="#4A78CC" stroke-width="1.25"/>
<circle cx="187.9" cy="928.8" r="3.25" fill="none" stroke="#4A78CC" stroke-width="1.25"/>
<circle cx="200.8" cy="979.9" r="3.25" fill="none" stroke="#4A78CC" stroke-width="1.25"/>
<circle cx="225.9" cy="890.7" r="3.25" fill="none" stroke="#4A78CC" stroke-width="1.25"/>
<circle cx="243.4" cy="901.5" r="3.25" fill="none" stroke="#4A78CC" stroke-width="1.25"/>
<circle cx="253.6" cy="950.9" r="3.25" fill="none" stroke="#4A78CC" stroke-width="1.25"/>
<rect x="152.05" y="905.55" width="6.1" height="6.1" fill="none" stroke="#2F8450" stroke-width="1.25"/>
<rect x="166.5" y="954.35" width="6.1" height="6.1" fill="none" stroke="#2F8450" stroke-width="1.25"/>
<rect x="226.55" y="914.65" width="6.1" height="6.1" fill="none" stroke="#2F8450" stroke-width="1.25"/>
<circle cx="164.6" cy="874.7" r="3.4" fill="none" stroke="#B03A48" stroke-width="1.05"/>
<path d="M164.04 873.2L166.5 875.48L163.69 876.54Z" fill="#A8293B"/>
<circle cx="232" cy="893.3" r="3.4" fill="none" stroke="#B03A48" stroke-width="1.05"/>
<path d="M233.29 892.35L231.77 895.34L229.98 892.93Z" fill="#A8293B"/>
<circle cx="242.5" cy="909.4" r="3.4" fill="none" stroke="#B03A48" stroke-width="1.05"/>
<path d="M244.02 908.9L241.63 911.26L240.7 908.41Z" fill="#A8293B"/>
<circle cx="249.7" cy="913.3" r="3.4" fill="none" stroke="#B03A48" stroke-width="1.05"/>
<path d="M251.26 912.94L248.67 915.08L248 912.15Z" fill="#A8293B"/>
<circle cx="252.2" cy="923.4" r="3.4" fill="none" stroke="#B03A48" stroke-width="1.05"/>
<path d="M253.8 923.29L250.91 925L250.7 922Z" fill="#A8293B"/>
<circle cx="232" cy="930.4" r="3.4" fill="none" stroke="#B03A48" stroke-width="1.05"/>
<path d="M233.6 930.47L230.53 931.83L230.67 928.84Z" fill="#A8293B"/>
<circle cx="210.1" cy="985.5" r="3.4" fill="none" stroke="#B03A48" stroke-width="1.05"/>
<path d="M210.75 986.96L208.16 984.83L210.9 983.61Z" fill="#A8293B"/>
<circle cx="205.1" cy="988.6" r="3.4" fill="none" stroke="#B03A48" stroke-width="1.05"/>
<path d="M205.61 990.12L203.23 987.75L206.07 986.79Z" fill="#A8293B"/>
<text x="131.36" y="913.7" font-size="10.5" fill="#2F8450">Tku</text>
<text x="158.96" y="970.3" font-size="10.5" fill="#2F8450">Tko</text>
<text x="214.14" y="911" font-size="10.5" fill="#2F8450">Rku</text>
<text x="145.81" y="866.6" font-size="10.5" fill="#A8293B">soil-K</text>
<text x="220.01" y="885.3" font-size="10.5" fill="#A8293B">soil-Al</text>
<text x="248.91" y="904.9" font-size="10.5" fill="#A8293B">soil-pH</text>
<text x="254.21" y="914.5" font-size="10.5" fill="#A8293B">soil-Mg</text>
<text x="257.71" y="926.1" font-size="10.5" fill="#A8293B">soil-Ca</text>
<text x="229.31" y="941.9" font-size="10.5" fill="#A8293B">soil-Pi</text>
<text x="214.71" y="985.2" font-size="10.5" fill="#A8293B">soil-N</text>
<text x="209.51" y="1001.3" font-size="10.5" fill="#A8293B">soil-C</text>
<line x1="49" y1="794.7" x2="121.8" y2="794.7" stroke="#333" stroke-width="1.4" stroke-linecap="square"/>
<line x1="121.8" y1="794.7" x2="320.2" y2="794.7" stroke="#111" stroke-width="1.4" stroke-linecap="square"/>
<line x1="49" y1="1061" x2="320.2" y2="1061" stroke="#444" stroke-width="1.4" stroke-linecap="square"/>
<line x1="49" y1="794.7" x2="49" y2="905.5" stroke="#111" stroke-width="1.4" stroke-linecap="square"/>
<line x1="49" y1="905.5" x2="49" y2="1061" stroke="#333" stroke-width="1.4" stroke-linecap="square"/>
<line x1="320.2" y1="794.7" x2="320.2" y2="1061" stroke="#444" stroke-width="1.4" stroke-linecap="square"/>
<line x1="68.59" y1="1061" x2="68.59" y2="1063" stroke="#333" stroke-width="1"/>
<line x1="47" y1="1042.19" x2="49" y2="1042.19" stroke="#333" stroke-width="1"/>
<line x1="126.67" y1="1061" x2="126.67" y2="1063" stroke="#333" stroke-width="1"/>
<line x1="47" y1="985.22" x2="49" y2="985.22" stroke="#333" stroke-width="1"/>
<line x1="184.75" y1="1061" x2="184.75" y2="1063" stroke="#333" stroke-width="1"/>
<line x1="47" y1="928.25" x2="49" y2="928.25" stroke="#333" stroke-width="1"/>
<line x1="242.83" y1="1061" x2="242.83" y2="1063" stroke="#333" stroke-width="1"/>
<line x1="47" y1="871.28" x2="49" y2="871.28" stroke="#333" stroke-width="1"/>
<line x1="300.91" y1="1061" x2="300.91" y2="1063" stroke="#333" stroke-width="1"/>
<line x1="47" y1="814.31" x2="49" y2="814.31" stroke="#333" stroke-width="1"/>
<text x="60" y="1079.4" font-size="19.3">-6</text>
<text x="29.29" y="1048.29" font-size="19.3">-6</text>
<text x="118.08" y="1079.4" font-size="19.3">-3</text>
<text x="29.29" y="991.32" font-size="19.3">-3</text>
<text x="179.38" y="1079.4" font-size="19.3">0</text>
<text x="35.62" y="934.35" font-size="19.3">0</text>
<text x="237.52" y="1079.4" font-size="19.3">3</text>
<text x="35.71" y="877.38" font-size="19.3">3</text>
<text x="295.48" y="1079.4" font-size="19.3">6</text>
<text x="35.71" y="820.41" font-size="19.3">6</text>
<text transform="translate(110.05,1107.6) scale(1,1.04)" font-size="24.3">PC1 (47.9%)</text>
<text transform="translate(20.1,927) rotate(-90) scale(1,1.04)" x="-69.8" y="0" font-size="24.3">PC2 (32.0%)</text>
<text transform="translate(5.43,777.4) scale(1,1.015)" font-size="28.5">(e)</text>
<text transform="translate(72.17,778) scale(1,1.015)" font-size="27.19">Cropping; Depth 1</text>
</g>
<g id="panel-f">
<line x1="425.6" y1="793.3" x2="425.6" y2="1060.1" stroke="#DEDEDE" stroke-width="1"/>
<line x1="405" y1="1040.11" x2="682.5" y2="1040.11" stroke="#DEDEDE" stroke-width="1"/>
<line x1="484.7" y1="793.3" x2="484.7" y2="1060.1" stroke="#DEDEDE" stroke-width="1"/>
<line x1="405" y1="982.93" x2="682.5" y2="982.93" stroke="#DEDEDE" stroke-width="1"/>
<line x1="602.9" y1="793.3" x2="602.9" y2="1060.1" stroke="#DEDEDE" stroke-width="1"/>
<line x1="405" y1="868.57" x2="682.5" y2="868.57" stroke="#DEDEDE" stroke-width="1"/>
<line x1="662" y1="793.3" x2="662" y2="1060.1" stroke="#DEDEDE" stroke-width="1"/>
<line x1="405" y1="811.39" x2="682.5" y2="811.39" stroke="#DEDEDE" stroke-width="1"/>
<line x1="543.8" y1="793.3" x2="543.8" y2="1060.1" stroke="#222" stroke-width="1" stroke-dasharray="2 1.6"/>
<line x1="405" y1="925.75" x2="682.5" y2="925.75" stroke="#222" stroke-width="1" stroke-dasharray="2 1.6"/>
<line x1="543.8" y1="925.75" x2="544.8" y2="871.9" stroke="#B03A48" stroke-width="1.1" stroke-dasharray="1.2 1.7"/>
<line x1="543.8" y1="925.75" x2="591.3" y2="898.7" stroke="#B03A48" stroke-width="1.1" stroke-dasharray="1.2 1.7"/>
<line x1="543.8" y1="925.75" x2="603.2" y2="910.4" stroke="#B03A48" stroke-width="1.1" stroke-dasharray="1.2 1.7"/>
<line x1="543.8" y1="925.75" x2="599.7" y2="913.1" stroke="#B03A48" stroke-width="1.1" stroke-dasharray="1.2 1.7"/>
<line x1="543.8" y1="925.75" x2="586.9" y2="938.5" stroke="#B03A48" stroke-width="1.1" stroke-dasharray="1.2 1.7"/>
<line x1="543.8" y1="925.75" x2="604.5" y2="938.8" stroke="#B03A48" stroke-width="1.1" stroke-dasharray="1.2 1.7"/>
<line x1="543.8" y1="925.75" x2="598" y2="945.8" stroke="#B03A48" stroke-width="1.1" stroke-dasharray="1.2 1.7"/>
<line x1="543.8" y1="925.75" x2="559.8" y2="955.1" stroke="#B03A48" stroke-width="1.1" stroke-dasharray="1.2 1.7"/>
<circle cx="551" cy="875.9" r="3.25" fill="none" stroke="#4A78CC" stroke-width="1.25"/>
<circle cx="533" cy="914.2" r="3.25" fill="none" stroke="#4A78CC" stroke-width="1.25"/>
<circle cx="554.4" cy="909.8" r="3.25" fill="none" stroke="#4A78CC" stroke-width="1.25"/>
<circle cx="495.8" cy="922.55" r="3.25" fill="none" stroke="#4A78CC" stroke-width="1.25"/>
<circle cx="499.1" cy="924.5" r="3.25" fill="none" stroke="#4A78CC" stroke-width="1.25"/>
<circle cx="503.4" cy="937.6" r="3.25" fill="none" stroke="#4A78CC" stroke-width="1.25"/>
<circle cx="510.8" cy="930.7" r="3.25" fill="none" stroke="#4A78CC" stroke-width="1.25"/>
<circle cx="509.6" cy="943.4" r="3.25" fill="none" stroke="#4A78CC" stroke-width="1.25"/>
<circle cx="608.5" cy="902.9" r="3.25" fill="none" stroke="#4A78CC" stroke-width="1.25"/>
<circle cx="592.7" cy="939.3" r="3.25" fill="none" stroke="#4A78CC" stroke-width="1.25"/>
<circle cx="572" cy="942.3" r="3.25" fill="none" stroke="#4A78CC" stroke-width="1.25"/>
<circle cx="591.7" cy="963" r="3.25" fill="none" stroke="#4A78CC" stroke-width="1.25"/>
<rect x="531.15" y="902.45" width="6.1" height="6.1" fill="none" stroke="#2F8450" stroke-width="1.25"/>
<rect x="500.35" y="930.85" width="6.1" height="6.1" fill="none" stroke="#2F8450" stroke-width="1.25"/>
<rect x="590.05" y="934.05" width="6.1" height="6.1" fill="none" stroke="#2F8450" stroke-width="1.25"/>
<circle cx="544.8" cy="871.9" r="3.4" fill="none" stroke="#B03A48" stroke-width="1.05"/>
<path d="M544.83 870.3L546.27 873.33L543.27 873.27Z" fill="#A8293B"/>
<circle cx="591.3" cy="898.7" r="3.4" fill="none" stroke="#B03A48" stroke-width="1.05"/>
<path d="M592.69 897.91L590.83 900.7L589.34 898.09Z" fill="#A8293B"/>
<circle cx="603.2" cy="910.4" r="3.4" fill="none" stroke="#B03A48" stroke-width="1.05"/>
<path d="M604.75 910L602.22 912.2L601.47 909.3Z" fill="#A8293B"/>
<circle cx="599.7" cy="913.1" r="3.4" fill="none" stroke="#B03A48" stroke-width="1.05"/>
<path d="M601.26 912.75L598.67 914.87L598 911.95Z" fill="#A8293B"/>
<circle cx="586.9" cy="938.5" r="3.4" fill="none" stroke="#B03A48" stroke-width="1.05"/>
<path d="M588.43 938.95L585.13 939.54L585.98 936.66Z" fill="#A8293B"/>
<circle cx="604.5" cy="938.8" r="3.4" fill="none" stroke="#B03A48" stroke-width="1.05"/>
<path d="M606.06 939.14L602.82 939.97L603.45 937.04Z" fill="#A8293B"/>
<circle cx="598" cy="945.8" r="3.4" fill="none" stroke="#B03A48" stroke-width="1.05"/>
<path d="M599.5 946.36L596.17 946.72L597.21 943.91Z" fill="#A8293B"/>
<circle cx="559.8" cy="955.1" r="3.4" fill="none" stroke="#B03A48" stroke-width="1.05"/>
<path d="M560.57 956.5L557.81 954.59L560.45 953.15Z" fill="#A8293B"/>
<text x="518.86" y="898.3" font-size="10.5" fill="#2F8450">Tko</text>
<text x="477.96" y="937.3" font-size="10.5" fill="#2F8450">Tku</text>
<text x="579.04" y="931.3" font-size="10.5" fill="#2F8450">Rku</text>
<text x="542.01" y="864.4" font-size="10.5" fill="#A8293B">soil-Mg</text>
<text x="575.81" y="890.3" font-size="10.5" fill="#A8293B">soil-N</text>
<text x="608.51" y="912.1" font-size="10.5" fill="#A8293B">soil-C</text>
<text x="600.71" y="924" font-size="10.5" fill="#A8293B">soil-Ca</text>
<text x="563.91" y="953.4" font-size="10.5" fill="#A8293B">soil-Al</text>
<text x="608.51" y="940.1" font-size="10.5" fill="#A8293B">soil-Pi</text>
<text x="600.71" y="953.4" font-size="10.5" fill="#A8293B">soil-pH</text>
<text x="550.41" y="967.8" font-size="10.5" fill="#A8293B">soil-K</text>
<line x1="405" y1="793.3" x2="682.5" y2="793.3" stroke="#444" stroke-width="1.4" stroke-linecap="square"/>
<line x1="405" y1="1060.1" x2="682.5" y2="1060.1" stroke="#444" stroke-width="1.4" stroke-linecap="square"/>
<line x1="405" y1="793.3" x2="405" y2="1060.1" stroke="#555" stroke-width="1.4" stroke-linecap="square"/>
<line x1="682.5" y1="793.3" x2="682.5" y2="1060.1" stroke="#444" stroke-width="1.4" stroke-linecap="square"/>
<line x1="425.6" y1="1060.1" x2="425.6" y2="1062.1" stroke="#333" stroke-width="1"/>
<line x1="403" y1="1040.11" x2="405" y2="1040.11" stroke="#333" stroke-width="1"/>
<line x1="484.7" y1="1060.1" x2="484.7" y2="1062.1" stroke="#333" stroke-width="1"/>
<line x1="403" y1="982.93" x2="405" y2="982.93" stroke="#333" stroke-width="1"/>
<line x1="543.8" y1="1060.1" x2="543.8" y2="1062.1" stroke="#333" stroke-width="1"/>
<line x1="403" y1="925.75" x2="405" y2="925.75" stroke="#333" stroke-width="1"/>
<line x1="602.9" y1="1060.1" x2="602.9" y2="1062.1" stroke="#333" stroke-width="1"/>
<line x1="403" y1="868.57" x2="405" y2="868.57" stroke="#333" stroke-width="1"/>
<line x1="662" y1="1060.1" x2="662" y2="1062.1" stroke="#333" stroke-width="1"/>
<line x1="403" y1="811.39" x2="405" y2="811.39" stroke="#333" stroke-width="1"/>
<text x="417.01" y="1078.5" font-size="19.3">-6</text>
<text x="384.59" y="1046.21" font-size="19.3">-6</text>
<text x="476.11" y="1078.5" font-size="19.3">-3</text>
<text x="384.59" y="989.03" font-size="19.3">-3</text>
<text x="538.43" y="1078.5" font-size="19.3">0</text>
<text x="390.92" y="931.85" font-size="19.3">0</text>
<text x="597.59" y="1078.5" font-size="19.3">3</text>
<text x="391.01" y="874.67" font-size="19.3">3</text>
<text x="656.57" y="1078.5" font-size="19.3">6</text>
<text x="391.01" y="817.49" font-size="19.3">6</text>
<text transform="translate(470.6,1107.6) scale(1,1.04)" font-size="24.3">PC1 (52.8%)</text>
<text transform="translate(373.7,927) rotate(-90) scale(1,1.04)" x="-69.8" y="0" font-size="24.3">PC2 (18.0%)</text>
<text transform="translate(354.03,777.2) scale(1,1.015)" font-size="28.5">(f)</text>
<text transform="translate(421.4,777.9) scale(1,1.015)" font-size="27.57">Cropping; Depth 2</text>
</g>
</svg>
</body></html>
